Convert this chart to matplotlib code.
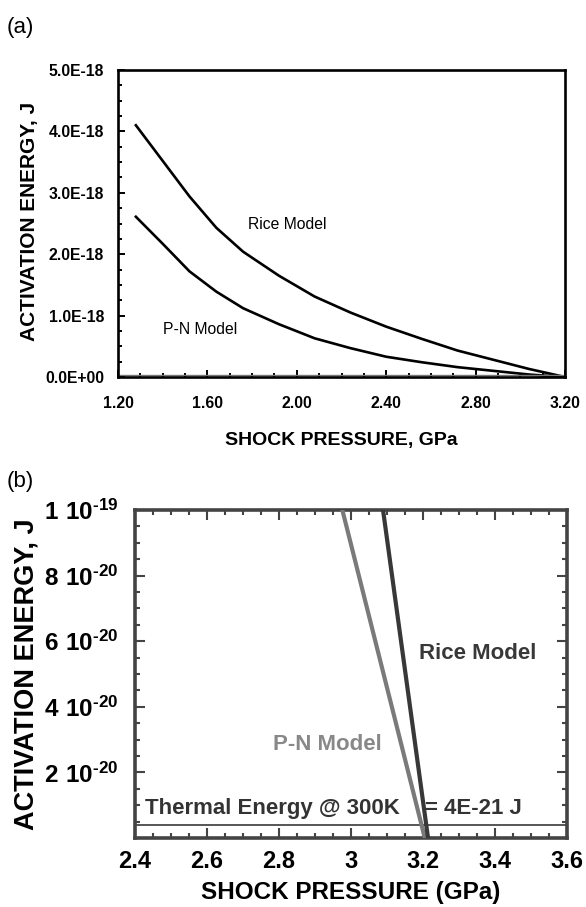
import numpy as np
import matplotlib
matplotlib.use("Agg")
import matplotlib.pyplot as plt
from matplotlib.ticker import MultipleLocator

plt.rcParams['font.family'] = ['Liberation Sans', 'DejaVu Sans']
plt.rcParams['mathtext.fontset'] = 'custom'
plt.rcParams['mathtext.rm'] = 'Liberation Sans:bold'
plt.rcParams['mathtext.bf'] = 'Liberation Sans:bold'

# panel (a) data, activation energy in units of 1E-18 J
pressure_a = [1.28, 1.40, 1.52, 1.64, 1.76, 1.92, 2.08, 2.24, 2.40, 2.56, 2.72, 2.88, 3.04, 3.20]
rice_a = [4.10, 3.52, 2.94, 2.43, 2.04, 1.65, 1.31, 1.05, 0.82, 0.62, 0.43, 0.28, 0.13, 0.0]
pn_a = [2.61, 2.17, 1.72, 1.39, 1.12, 0.86, 0.63, 0.47, 0.33, 0.24, 0.16, 0.10, 0.04, 0.0]
xticks_a = [1.20, 1.60, 2.00, 2.40, 2.80, 3.20]
yticks_a = [0.0, 1.0, 2.0, 3.0, 4.0, 5.0]
ylabels_a = ["0.0E+00", "1.0E-18", "2.0E-18", "3.0E-18", "4.0E-18", "5.0E-18"]

# panel (b) data, zoom near zero
rice_b_p = [3.089, 3.214]
rice_b_e = [1.0e-19, 0.0]
pn_b_p = [2.976, 3.205]
pn_b_e = [1.0e-19, 0.0]
thermal = 4e-21
xticks_b = [2.4, 2.6, 2.8, 3.0, 3.2, 3.4, 3.6]
xlabels_b = ["2.4", "2.6", "2.8", "3", "3.2", "3.4", "3.6"]
yticks_b = [2e-20, 4e-20, 6e-20, 8e-20, 1e-19]
ylabels_b = [r"$\mathbf{2\ 10^{\text{-}20}}$", r"$\mathbf{4\ 10^{\text{-}20}}$",
             r"$\mathbf{6\ 10^{\text{-}20}}$", r"$\mathbf{8\ 10^{\text{-}20}}$",
             r"$\mathbf{1\ 10^{\text{-}19}}$"]

fig = plt.figure(figsize=(5.86, 9.07), dpi=100)

# ---- (a)
ax = fig.add_axes([118/586, 1-377/907, 447/586, 307/907])
e18 = 1e-18
ax.plot(pressure_a, np.array(rice_a)*e18, color='black', lw=1.9, solid_joinstyle='round')
ax.plot(pressure_a, np.array(pn_a)*e18, color='black', lw=1.9, solid_joinstyle='round')
ax.axhline(0.04*e18, color='#777777', lw=1.0)
ax.set_xlim(1.2, 3.2)
ax.set_ylim(0, 5*e18)
ax.set_xticks(xticks_a)
ax.set_xticklabels(["%.2f" % v for v in xticks_a])
ax.set_yticks(np.array(yticks_a)*e18)
ax.set_yticklabels(ylabels_a)
ax.xaxis.set_minor_locator(MultipleLocator(0.1))
ax.yaxis.set_minor_locator(MultipleLocator(0.25*e18))
ax.tick_params(which='both', direction='in', width=1.4, color='black', top=False, right=False)
ax.tick_params(which='major', length=5)
ax.tick_params(which='minor', length=3)
ax.tick_params(axis='x', pad=14)
ax.tick_params(axis='y', pad=10)
for lab in ax.get_xticklabels() + ax.get_yticklabels():
    lab.set_fontsize(11.3)
    lab.set_fontweight('bold')
for s in ax.spines.values():
    s.set_linewidth(1.9)
ax.text(1.78, 2.49*e18, "Rice Model", fontsize=11.3, va='center', ha='left')
ax.text(1.40, 0.77*e18, "P-N Model", fontsize=11.3, va='center', ha='left')
ax.set_xlabel("SHOCK PRESSURE, GPa", fontsize=14, fontweight='bold', va='center')
ax.xaxis.set_label_coords(0.5, (377-440)/307)
ax.set_ylabel("ACTIVATION ENERGY, J", fontsize=15, fontweight='bold', va='center')
ax.yaxis.set_label_coords((30-118)/447, (377-221)/307)
fig.text(7/586, 1-27/907, "(a)", fontsize=16, va='center', ha='left')

# ---- (b)
gray = '#444444'
bx = fig.add_axes([135/586, 1-838/907, 432/586, 328/907])
bx.axhline(thermal, color='#555555', lw=1.4, zorder=2)
bx.plot(pn_b_p, pn_b_e, color='#7a7a7a', lw=3.0, zorder=4)
bx.plot(rice_b_p, rice_b_e, color='#383838', lw=3.0, zorder=4)
bx.set_xlim(2.4, 3.6)
bx.set_ylim(0, 1e-19)
bx.set_xticks(xticks_b)
bx.set_xticklabels(xlabels_b)
bx.set_yticks(yticks_b)
bx.set_yticklabels(ylabels_b)
bx.xaxis.set_minor_locator(MultipleLocator(0.05))
bx.yaxis.set_minor_locator(MultipleLocator(0.5e-20))
bx.tick_params(which='both', direction='in', width=1.5, color=gray, top=True, right=True)
bx.tick_params(which='major', length=7)
bx.tick_params(which='minor', length=3.5)
bx.tick_params(axis='x', pad=8.5, labelsize=17)
bx.tick_params(axis='y', pad=12, labelsize=17.5)
for lab in bx.get_xticklabels():
    lab.set_fontweight('bold')
for s in bx.spines.values():
    s.set_linewidth(2.6)
    s.set_color(gray)
bx.text(3.19, 0.564e-19, "Rice Model", fontsize=16, fontweight='bold', color='#383838',
        va='center', ha='left', zorder=3)
bx.text(2.783, 0.284e-19, "P-N Model", fontsize=16, fontweight='bold', color='#888888',
        va='center', ha='left', zorder=3)
bx.text(2.428, 0.91e-20, "Thermal Energy @ 300K", fontsize=16, fontweight='bold',
        color='#333333', va='center', ha='left', zorder=3)
bx.text(3.205, 0.91e-20, "= 4E-21 J", fontsize=16, fontweight='bold',
        color='#333333', va='center', ha='left', zorder=3)
bx.set_xlabel("SHOCK PRESSURE (GPa)", fontsize=17.5, fontweight='bold', va='center')
bx.xaxis.set_label_coords(0.5, (838-892)/328)
bx.set_ylabel("ACTIVATION ENERGY, J", fontsize=19.5, fontweight='bold', va='center')
bx.yaxis.set_label_coords((27-135)/432, 0.5)
fig.text(7/586, 1-482/907, "(b)", fontsize=16, va='center', ha='left')

fig.savefig("out.png", dpi=100)
